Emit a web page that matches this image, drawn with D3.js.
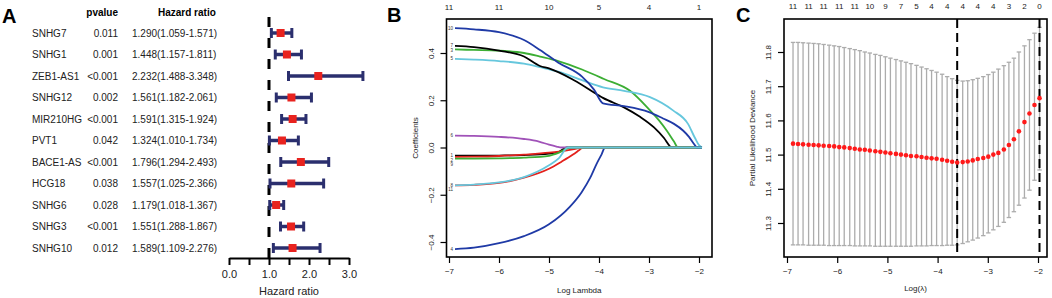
<!DOCTYPE html>
<html lang="en">
<head>
  <meta charset="utf-8" />
  <style>
    body { margin: 0; background: #fff; }
    svg text { font-family: Arial, "Liberation Sans", sans-serif; }
  </style>
</head>
<body>
<div id="container"></div>
<script src="https://cdn.jsdelivr.net/npm/d3@7"></script>
<script>

// ---------- panel A : univariate Cox forest plot ----------
const genes = ['SNHG7', 'SNHG1', 'ZEB1-AS1', 'SNHG12', 'MIR210HG', 'PVT1', 'BACE1-AS', 'HCG18', 'SNHG6', 'SNHG3', 'SNHG10'];
const pvalues = ['0.011', '0.001', '<0.001', '0.002', '<0.001', '0.042', '<0.001', '0.038', '0.028', '<0.001', '0.012'];
const hr = [1.290, 1.448, 2.232, 1.561, 1.591, 1.324, 1.796, 1.557, 1.179, 1.551, 1.589];
const hrLow = [1.059, 1.157, 1.488, 1.182, 1.315, 1.010, 1.294, 1.025, 1.018, 1.288, 1.109];
const hrHigh = [1.571, 1.811, 3.348, 2.061, 1.924, 1.734, 2.493, 2.366, 1.367, 1.867, 2.276];
const hrTicks = [0, 0.5, 1, 1.5, 2, 2.5, 3];

// ---------- panel B : lasso coefficient paths (log lambda, coefficient) ----------
const path1 = [[-6.88, -0.035], [-6.5, -0.035], [-6, -0.034], [-5.5, -0.032], [-5, -0.026], [-4.8, -0.018], [-4.64, 0], [-1.94, 0]];
const path2 = [[-6.88, -0.040], [-6.5, -0.039], [-6, -0.036], [-5.5, -0.030], [-5, -0.022], [-4.7, -0.014], [-4.5, -0.007], [-4.32, 0], [-1.94, 0]];
const path3 = [[-6.88, 0.415], [-6.5, 0.413], [-6, 0.41], [-5.5, 0.40], [-5.18, 0.385], [-4.8, 0.365], [-4.34, 0.33], [-3.9, 0.29], [-3.38, 0.24], [-2.98, 0.157], [-2.8, 0.115], [-2.64, 0.07], [-2.5, 0.025], [-2.42, 0], [-1.94, 0]];
const path4 = [[-6.88, -0.43], [-6.5, -0.424], [-6, -0.405], [-5.5, -0.375], [-5, -0.325], [-4.58, -0.25], [-4.35, -0.19], [-4.18, -0.13], [-4.05, -0.07], [-3.95, -0.03], [-3.88, 0], [-1.94, 0]];
const path5 = [[-6.88, 0.375], [-6.5, 0.372], [-6, 0.366], [-5.5, 0.355], [-5.18, 0.34], [-4.8, 0.32], [-4.34, 0.285], [-3.92, 0.255], [-3.5, 0.24], [-2.98, 0.213], [-2.52, 0.157], [-2.22, 0.10], [-2.08, 0.04], [-2.0, 0.01], [-1.94, 0]];
const path6 = [[-6.88, 0.05], [-6.5, 0.049], [-6, 0.045], [-5.5, 0.036], [-5.2, 0.025], [-5, 0.012], [-4.85, 0.004], [-4.75, 0], [-1.94, 0]];
const path7 = [[-6.88, 0.43], [-6.5, 0.425], [-6, 0.41], [-5.5, 0.385], [-5.18, 0.345], [-5, 0.335], [-4.5, 0.285], [-4, 0.22], [-3.92, 0.21], [-3.5, 0.17], [-3.18, 0.13], [-2.9, 0.085], [-2.7, 0.04], [-2.58, 0.005], [-2.55, 0], [-1.94, 0]];
const path8 = [[-6.88, -0.16], [-6.5, -0.158], [-6, -0.15], [-5.5, -0.128], [-5, -0.09], [-4.75, -0.06], [-4.52, -0.03], [-4.4, -0.012], [-4.32, 0], [-1.94, 0]];
const path9 = [[-6.88, -0.047], [-6.5, -0.047], [-6, -0.046], [-5.5, -0.043], [-5, -0.035], [-4.8, -0.022], [-4.58, 0], [-1.94, 0]];
const path10 = [[-6.88, 0.505], [-6.5, 0.50], [-6, 0.488], [-5.5, 0.455], [-5.18, 0.413], [-4.82, 0.36], [-4.34, 0.30], [-4.1, 0.245], [-3.92, 0.187], [-3.5, 0.175], [-3, 0.15], [-2.72, 0.123], [-2.5, 0.10], [-2.32, 0.072], [-2.2, 0.045], [-2.1, 0.015], [-2.04, 0], [-1.94, 0]];
const path11 = [[-6.88, -0.16], [-6.5, -0.157], [-6, -0.148], [-5.5, -0.125], [-5, -0.075], [-4.8, -0.045], [-4.62, 0], [-1.94, 0]];
const coefPaths = [path1, path2, path3, path4, path5, path6, path7, path8, path9, path10, path11];
const coefNames = ['1', '2', '3', '4', '5', '6', '7', '8', '9', '10', '11'];
const dfLambda = [-7, -6, -5, -4, -3, -2];
const dfCount = [11, 11, 10, 5, 4, 1];

// ---------- panel C : cross-validation curve ----------
const logLambdaCV = [-6.88, -6.78, -6.68, -6.57, -6.47, -6.37, -6.27, -6.16, -6.06, -5.96, -5.86, -5.75, -5.65, -5.55, -5.45, -5.35, -5.24, -5.14, -5.04, -4.94, -4.83, -4.73, -4.63, -4.53, -4.42, -4.32, -4.22, -4.12, -4.02, -3.91, -3.81, -3.71, -3.61, -3.50, -3.40, -3.30, -3.20, -3.09, -2.99, -2.89, -2.79, -2.68, -2.58, -2.48, -2.38, -2.27, -2.17, -2.07, -1.97];
const cvMean = [11.532, 11.531, 11.530, 11.529, 11.528, 11.527, 11.526, 11.525, 11.524, 11.522, 11.521, 11.519, 11.517, 11.515, 11.514, 11.512, 11.510, 11.508, 11.506, 11.504, 11.502, 11.500, 11.498, 11.496, 11.495, 11.493, 11.491, 11.489, 11.488, 11.485, 11.482, 11.479, 11.477, 11.478, 11.480, 11.483, 11.487, 11.490, 11.494, 11.500, 11.505, 11.515, 11.528, 11.545, 11.568, 11.595, 11.620, 11.645, 11.665];
const cvUpper = [11.828, 11.828, 11.827, 11.826, 11.825, 11.824, 11.822, 11.820, 11.818, 11.816, 11.813, 11.810, 11.807, 11.804, 11.800, 11.797, 11.793, 11.790, 11.786, 11.782, 11.778, 11.774, 11.770, 11.766, 11.761, 11.756, 11.751, 11.746, 11.741, 11.735, 11.728, 11.722, 11.717, 11.715, 11.716, 11.719, 11.723, 11.728, 11.734, 11.741, 11.750, 11.760, 11.770, 11.782, 11.800, 11.818, 11.836, 11.855, 11.872];
const cvLower = [11.236, 11.236, 11.236, 11.235, 11.235, 11.235, 11.235, 11.234, 11.234, 11.234, 11.234, 11.234, 11.233, 11.233, 11.233, 11.233, 11.232, 11.232, 11.232, 11.232, 11.232, 11.232, 11.232, 11.232, 11.233, 11.233, 11.233, 11.234, 11.234, 11.234, 11.235, 11.235, 11.236, 11.240, 11.245, 11.250, 11.256, 11.263, 11.271, 11.280, 11.290, 11.302, 11.316, 11.333, 11.352, 11.373, 11.396, 11.425, 11.455];
const nzLambda = [-6.88, -6.57, -6.27, -5.96, -5.65, -5.35, -5.04, -4.73, -4.42, -4.12, -3.81, -3.50, -3.20, -2.89, -2.58, -2.27, -1.97];
const nzCount = [11, 11, 11, 11, 11, 10, 9, 7, 5, 4, 4, 4, 4, 4, 3, 2, 0];
const lambdaMin = -3.61;
const lambda1se = -1.97;

const svg = d3.select('#container')
  .append('svg')
  .attr('width', 1052)
  .attr('height', 298);

function panelLetter(t, x, y) {
  svg.append('text').text(t)
    .attr('x', x).attr('y', y)
    .style('font-size', '20px').style('font-weight', 'bold');
}

// rotated R-style y axis labels
function rotateYLabels(g, off) {
  g.selectAll('.tick text')
    .attr('x', null).attr('dy', null)
    .attr('text-anchor', 'middle')
    .attr('transform', `translate(${-off},0) rotate(-90)`);
}

// ================= A =================
panelLetter('A', 2, 23);

const yA = d3.scalePoint().domain(genes).range([33, 248]);
const xA = d3.scaleLinear().domain([0, 3]).range([229, 349]);
const gA = svg.append('g').style('font-size', '10px');

gA.append('text').text('pvalue')
  .attr('x', 118).attr('y', 16).attr('text-anchor', 'end')
  .style('font-weight', 'bold');
gA.append('text').text('Hazard ratio')
  .attr('x', 158).attr('y', 16)
  .style('font-weight', 'bold');

gA.selectAll('.gene').data(genes).enter().append('text')
  .attr('x', 32).attr('y', d => yA(d) + 3.5)
  .attr('fill', '#222')
  .text(d => d);

gA.selectAll('.pv').data(genes).enter().append('text')
  .attr('x', 118).attr('y', d => yA(d) + 3.5)
  .attr('text-anchor', 'end').attr('fill', '#222')
  .text((d, i) => pvalues[i]);

gA.selectAll('.hrt').data(genes).enter().append('text')
  .attr('x', 132).attr('y', d => yA(d) + 3.5)
  .attr('fill', '#222')
  .text((d, i) => `${hr[i].toFixed(3)}(${hrLow[i].toFixed(3)}-${hrHigh[i].toFixed(3)})`);

// reference line at HR = 1
gA.append('line')
  .attr('x1', xA(1)).attr('x2', xA(1))
  .attr('y1', 17).attr('y2', 258)
  .attr('stroke', '#000').attr('stroke-width', 3)
  .attr('stroke-dasharray', '10,11');

const navy = '#2b2f6e';
const rowsA = gA.selectAll('.row').data(genes).enter().append('g');
rowsA.append('line')
  .attr('x1', (d, i) => xA(hrLow[i])).attr('x2', (d, i) => xA(hrHigh[i]))
  .attr('y1', d => yA(d)).attr('y2', d => yA(d))
  .attr('stroke', navy).attr('stroke-width', 3.5);
rowsA.append('line')
  .attr('x1', (d, i) => xA(hrLow[i])).attr('x2', (d, i) => xA(hrLow[i]))
  .attr('y1', d => yA(d) - 5).attr('y2', d => yA(d) + 5)
  .attr('stroke', navy).attr('stroke-width', 3);
rowsA.append('line')
  .attr('x1', (d, i) => xA(hrHigh[i])).attr('x2', (d, i) => xA(hrHigh[i]))
  .attr('y1', d => yA(d) - 5).attr('y2', d => yA(d) + 5)
  .attr('stroke', navy).attr('stroke-width', 3);
rowsA.append('rect')
  .attr('x', (d, i) => xA(hr[i]) - 4).attr('y', d => yA(d) - 4)
  .attr('width', 8).attr('height', 8)
  .attr('fill', '#e8231f');

const axA = gA.append('g')
  .attr('transform', 'translate(0,258)')
  .call(d3.axisBottom(xA).tickValues(hrTicks).tickSize(7).tickSizeOuter(0)
    .tickFormat(d => Number.isInteger(d) ? d.toFixed(1) : ''));
axA.selectAll('path, line').attr('stroke', '#000').attr('stroke-width', 2);
axA.selectAll('text').style('font-size', '11px').attr('fill', '#222').attr('dy', '0.95em');
gA.append('text').text('Hazard ratio')
  .attr('x', xA(1.5)).attr('y', 295).attr('text-anchor', 'middle')
  .style('font-size', '11px').attr('fill', '#222');

// ================= B =================
panelLetter('B', 387, 22);

const xB = d3.scaleLinear().domain([-7, -2]).range([449, 699]);
const yB = d3.scaleLinear().domain([-0.4, 0.4]).range([242, 53]);
const gB = svg.append('g').style('font-size', '8px');
const boxB = { x0: 446.5, x1: 712, y0: 19, y1: 257 };

const pathColors = ['#000000', '#e3211c', '#3cae34', '#1f3aa6', '#66c7dd', '#a052b8'];
const lineB = d3.line().x(d => xB(d[0])).y(d => yB(d[1])).curve(d3.curveMonotoneX);

gB.selectAll('.cp').data(coefPaths).enter().append('path')
  .attr('d', lineB)
  .attr('fill', 'none')
  .attr('stroke', (d, i) => pathColors[i % 6])
  .attr('stroke-width', 1.8);

// tiny variable numbers at the left end of each path, pushed apart where they collide
const startLabels = coefPaths.map((p, i) => ({ name: coefNames[i], x: xB(p[0][0]) - 2, y: yB(p[0][1]) }))
  .sort((a, b) => a.y - b.y);
startLabels.forEach((d, i) => {
  if (i > 0 && d.y - startLabels[i - 1].y < 4.6) d.y = startLabels[i - 1].y + 4.6;
});
gB.selectAll('.cl').data(startLabels).enter().append('text')
  .attr('x', d => d.x).attr('y', d => d.y + 1.5)
  .attr('text-anchor', 'end').style('font-size', '4.5px').attr('fill', '#333')
  .text(d => d.name);

gB.append('rect')
  .attr('x', boxB.x0).attr('y', boxB.y0)
  .attr('width', boxB.x1 - boxB.x0).attr('height', boxB.y1 - boxB.y0)
  .attr('fill', 'none').attr('stroke', '#000').attr('stroke-width', 1.6);

const axBx = gB.append('g').attr('transform', `translate(0,${boxB.y1})`)
  .call(d3.axisBottom(xB).tickValues(dfLambda).tickSize(6).tickPadding(5).tickFormat(d3.format('d')));
axBx.select('.domain').remove();
const axBy = gB.append('g').attr('transform', `translate(${boxB.x0},0)`)
  .call(d3.axisLeft(yB).tickValues([-0.4, -0.2, 0, 0.2, 0.4]).tickSize(6).tickFormat(d3.format('.1f')));
axBy.select('.domain').remove();
rotateYLabels(axBy, 13);
[axBx, axBy].forEach(a => {
  a.selectAll('line').attr('stroke', '#000').attr('stroke-width', 1.2);
  a.selectAll('text').style('font-size', '8px').attr('fill', '#222');
});

gB.selectAll('.df').data(dfLambda).enter().append('text')
  .attr('x', d => xB(d)).attr('y', 10).attr('text-anchor', 'middle')
  .attr('fill', '#222')
  .text((d, i) => dfCount[i]);

gB.append('text').text('Log Lambda')
  .attr('x', (boxB.x0 + boxB.x1) / 2).attr('y', 293).attr('text-anchor', 'middle').attr('fill', '#222');
gB.append('text').text('Coefficients')
  .attr('transform', `translate(418,${(boxB.y0 + boxB.y1) / 2}) rotate(-90)`)
  .attr('text-anchor', 'middle').attr('fill', '#222');

// ================= C =================
panelLetter('C', 736, 22);

const xC = d3.scaleLinear().domain([-7, -2]).range([787, 1038]);
const yC = d3.scaleLinear().domain([11.3, 11.8]).range([223, 52]);
const gC = svg.append('g').style('font-size', '8px');
const boxC = { x0: 784, x1: 1047, y0: 19, y1: 257 };

const bars = gC.selectAll('.eb').data(logLambdaCV).enter().append('g')
  .attr('stroke', '#acacac').attr('stroke-width', 1.3);
bars.append('line')
  .attr('x1', d => xC(d)).attr('x2', d => xC(d))
  .attr('y1', (d, i) => yC(cvLower[i])).attr('y2', (d, i) => yC(cvUpper[i]));
bars.append('line')
  .attr('x1', d => xC(d) - 2.2).attr('x2', d => xC(d) + 2.2)
  .attr('y1', (d, i) => yC(cvLower[i])).attr('y2', (d, i) => yC(cvLower[i]));
bars.append('line')
  .attr('x1', d => xC(d) - 2.2).attr('x2', d => xC(d) + 2.2)
  .attr('y1', (d, i) => yC(cvUpper[i])).attr('y2', (d, i) => yC(cvUpper[i]));

gC.selectAll('.vl').data([lambdaMin, lambda1se]).enter().append('line')
  .attr('x1', d => xC(d)).attr('x2', d => xC(d))
  .attr('y1', boxC.y0).attr('y2', boxC.y1)
  .attr('stroke', '#000').attr('stroke-width', 2)
  .attr('stroke-dasharray', '9,5');

gC.selectAll('.pt').data(logLambdaCV).enter().append('circle')
  .attr('cx', d => xC(d)).attr('cy', (d, i) => yC(cvMean[i]))
  .attr('r', 2.3).attr('fill', '#ff1a1a');

gC.append('rect')
  .attr('x', boxC.x0).attr('y', boxC.y0)
  .attr('width', boxC.x1 - boxC.x0).attr('height', boxC.y1 - boxC.y0)
  .attr('fill', 'none').attr('stroke', '#000').attr('stroke-width', 1.6);

const axCx = gC.append('g').attr('transform', `translate(0,${boxC.y1})`)
  .call(d3.axisBottom(xC).tickValues([-7, -6, -5, -4, -3, -2]).tickSize(6).tickPadding(5).tickFormat(d3.format('d')));
axCx.select('.domain').remove();
const axCy = gC.append('g').attr('transform', `translate(${boxC.x0},0)`)
  .call(d3.axisLeft(yC).tickValues([11.3, 11.4, 11.5, 11.6, 11.7, 11.8]).tickSize(6).tickFormat(d3.format('.1f')));
axCy.select('.domain').remove();
rotateYLabels(axCy, 13);
[axCx, axCy].forEach(a => {
  a.selectAll('line').attr('stroke', '#000').attr('stroke-width', 1.2);
  a.selectAll('text').style('font-size', '8px').attr('fill', '#222');
});

gC.selectAll('.nz').data(nzLambda).enter().append('text')
  .attr('x', d => xC(d)).attr('y', 9).attr('text-anchor', 'middle')
  .attr('fill', '#222')
  .text((d, i) => nzCount[i]);

gC.append('text').text('Log(\u03bb)')
  .attr('x', (boxC.x0 + boxC.x1) / 2).attr('y', 291).attr('text-anchor', 'middle').attr('fill', '#222');
gC.append('text').text('Partial Likelihood Deviance')
  .attr('transform', `translate(755,${(boxC.y0 + boxC.y1) / 2}) rotate(-90)`)
  .attr('text-anchor', 'middle').attr('fill', '#222');

</script>
</body>
</html>
